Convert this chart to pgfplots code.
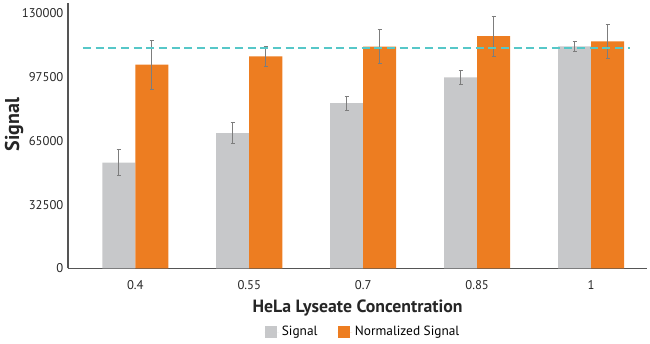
\documentclass[border=0pt]{standalone}
\usepackage{fontspec}
\setmainfont{PT Sans}
\usepackage{pgfplots}
\pgfplotsset{compat=1.18}
\usetikzlibrary{calc}
\definecolor{barGray}{RGB}{199,200,202}
\definecolor{barOrange}{RGB}{237,125,33}
\definecolor{errGray}{RGB}{125,125,125}
\definecolor{dashTeal}{RGB}{86,199,200}
\definecolor{axGray}{RGB}{85,85,85}
\begin{document}
\begin{tikzpicture}
\begin{axis}[
  scale only axis,
  width=434pt, height=199pt,
  xmin=-0.59, xmax=4.49,
  ymin=0, ymax=135000,
  axis lines=left,
  axis line style={-, color=axGray, line width=1.1pt},
  major tick length=0pt,
  xtick={0,1,2,3,4},
  xticklabels={0.4,0.55,0.7,0.85,1},
  ytick={0,32500,65000,97500,130000},
  /pgf/number format/assume math mode=true,
  /pgf/number format/fixed,
  /pgf/number format/set thousands separator={},
  scaled y ticks=false,
  tick label style={font=\fontsize{9.5}{11}\selectfont, text=black!85},
  xticklabel style={yshift=-5.5pt},
  xlabel={\bfseries HeLa Lyseate Concentration},
  ylabel={\bfseries Signal},
  every axis x label/.style={at={(axis description cs:0.5,-0.148)}, anchor=center, font=\fontsize{13.3}{15}\selectfont, text=black!85},
  every axis y label/.style={at={(axis description cs:-0.093,0.543)}, anchor=center, rotate=90, font=\fontsize{15}{17}\selectfont, text=black!85},
  legend style={draw=none, at={(axis description cs:0.51,-0.24)}, anchor=center, legend columns=2, font=\fontsize{10}{12}\selectfont, /tikz/every even column/.append style={column sep=13pt}},
  legend image code/.code={\fill[#1] (0pt,-4.5pt) rectangle (9pt,4.5pt); \path (0pt,0pt) -- (11pt,0pt);},
  error bars/error bar style={color=errGray, line width=0.6pt},
  error bars/error mark options={rotate=90, mark size=1.6pt, color=errGray, line width=0.6pt},
]
\addplot[ybar, bar width=24.75pt, bar shift=-12.375pt, fill=barGray, draw=none,
  error bars/.cd, y dir=both, y explicit, error bar style={xshift=-12.375pt}]
  coordinates {
    (0,53800) +- (0,6500)
    (1,68800) +- (0,5400)
    (2,84100) +- (0,3600)
    (3,97200) +- (0,3400)
    (4,113000) +- (0,2500)
  };
\addlegendentry{Signal}
\addplot[ybar, bar width=24.75pt, bar shift=12.375pt, fill=barOrange, draw=none,
  error bars/.cd, y dir=both, y explicit, error bar style={xshift=12.375pt}]
  coordinates {
    (0,103600) +- (0,12300)
    (1,107900) +- (0,5100)
    (2,112800) +- (0,8700)
    (3,118100) +- (0,10200)
    (4,115500) +- (0,8700)
  };
\addlegendentry{Normalized Signal}
\addplot[forget plot, sharp plot, no markers, color=dashTeal, line width=1.8pt, dash pattern=on 6pt off 3.5pt]
  coordinates {(-0.46,112000) (4.34,112000)};
\end{axis}
\path ($(current axis.south west)+(-51pt,-56.25pt)$) rectangle ($(current axis.north east)+(2.25pt,2.25pt)$);
\end{tikzpicture}
\end{document}
